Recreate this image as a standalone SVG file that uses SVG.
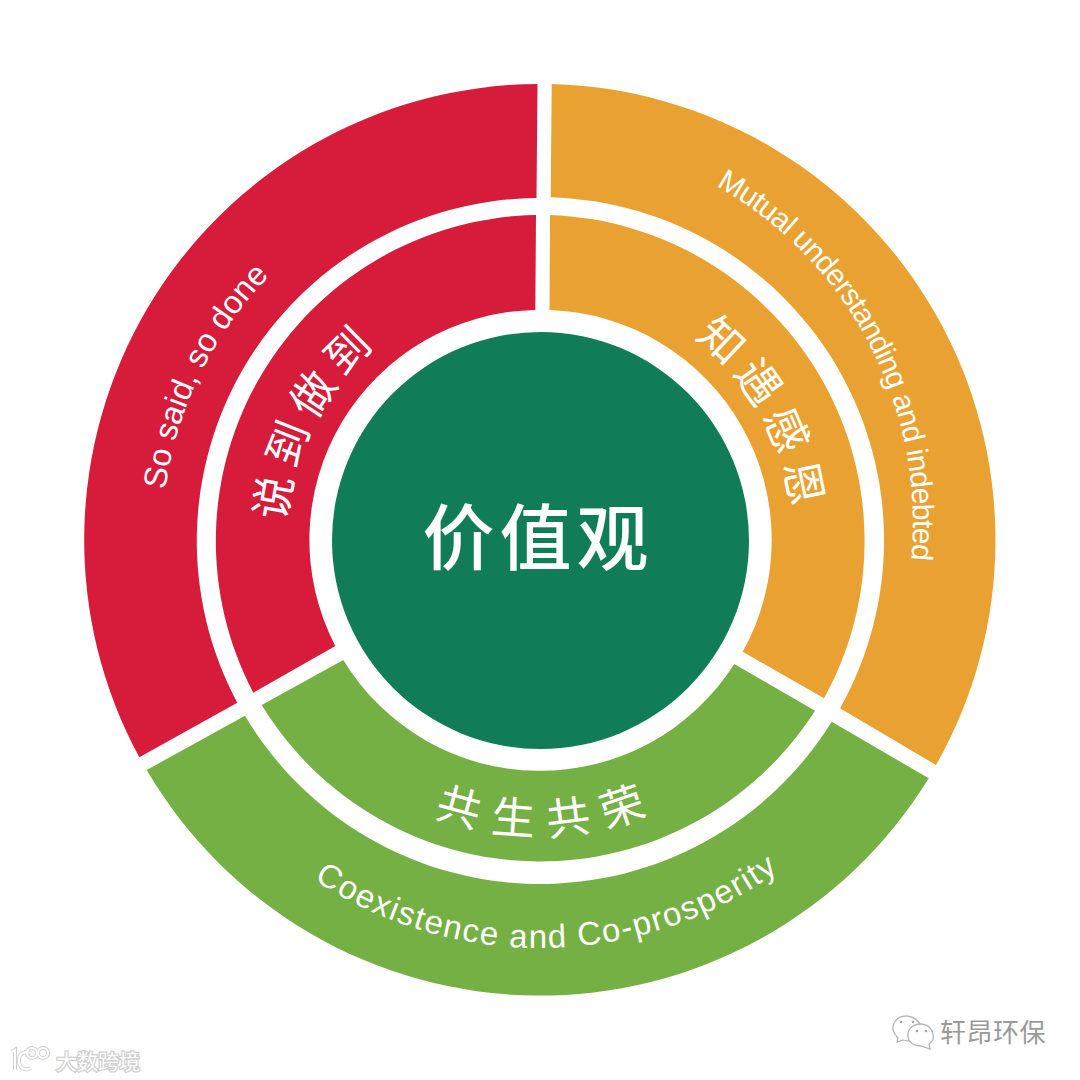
<svg xmlns="http://www.w3.org/2000/svg" width="1080" height="1080" viewBox="0 0 1080 1080">
<style>
.red{fill:#D61C3A}.org{fill:#E9A232}.grn{fill:#75B044}.core{fill:#117D58}
.cjk{font-family:"Noto Sans CJK SC","Noto Sans",sans-serif;fill:#fff;font-size:44px;font-weight:400;text-anchor:middle}
.en{font-family:"Liberation Sans",Arial,sans-serif;fill:#fff;text-anchor:middle}
.wm{font-family:"Noto Sans CJK SC",sans-serif;font-size:26px}
</style>
<defs>
<path id="pI" d="M 286,540 A 254 254 0 0 1 794,540"/>
<path id="pIB" d="M 245,540 A 295 295 0 0 0 835,540"/>
<path id="pOL" d="M 162,540 A 378 378 0 0 1 918,540"/>
<path id="pOR" d="M 139,523 A 387 387 0 0 1 913,523"/>
<path id="pOB" d="M 132,540 A 408 408 0 0 0 948,540"/>
</defs>
<rect width="1080" height="1080" fill="#fff"/>
<g id="node-red">
<path class="red" d="M537.5,84 L536.5,198 A343 343 0 0 0 237.3,702.7 L139.3,757.3 A456 456 0 0 1 537.5,84 Z"/>
<path class="red" d="M536,215 L535.3,310 A230 230 0 0 0 335.3,646 L253.3,692.7 A326 326 0 0 1 536,215 Z"/>
<text class="cjk" letter-spacing="8.4" transform="rotate(-62.3 540 540)"><textPath href="#pI" startOffset="50%">说到做到</textPath></text>
<text class="en" font-size="32.5" transform="rotate(-64 540 540)"><textPath href="#pOL" startOffset="50%">So said, so done</textPath></text>
</g>
<g id="node-orange">
<path class="org" d="M551.7,84 A456 456 0 0 1 936,765 L840,708.3 A343 343 0 0 0 550.7,197.3 Z"/>
<path class="org" d="M550,215 A326 326 0 0 1 824,698.3 L742.7,651.7 A230 230 0 0 0 549.5,310 Z"/>
<text class="cjk" letter-spacing="8.4" transform="rotate(60.9 540 540)"><textPath href="#pI" startOffset="50%">知遇感恩</textPath></text>
<text class="en" font-size="30" letter-spacing="-0.75" transform="rotate(62.4 526 523)"><textPath href="#pOR" startOffset="50%">Mutual understanding and indebted</textPath></text>
</g>
<g id="node-green">
<path class="grn" d="M146.7,770 L245,715.7 A343 343 0 0 0 831.7,721.7 L928.7,778.3 A456 456 0 0 1 146.7,770 Z"/>
<path class="grn" d="M261.7,705 L343.3,660 A230 230 0 0 0 734.3,664 L815,710.7 A326 326 0 0 1 261.7,705 Z"/>
<text class="cjk" letter-spacing="14.2" transform="rotate(-1.6 540 540)"><textPath href="#pIB" startOffset="50%">共生共荣</textPath></text>
<text class="en" font-size="33" letter-spacing="1.45" transform="rotate(-1.15 540 540)"><textPath href="#pOB" startOffset="50%">Coexistence and Co-prosperity</textPath></text>
</g>
<g id="node-core">
<circle class="core" cx="540.5" cy="540.5" r="208.5"/>
<text x="538" y="564" font-family="Noto Sans CJK SC, sans-serif" font-size="72" font-weight="500" fill="#fff" text-anchor="middle" letter-spacing="5">价值观</text>
</g>
<g id="watermark-right">
<g fill="#fff" stroke="#b5b5b5" stroke-width="1.3">
<path d="M906,1016 C897,1016 892,1023 893,1030 C894,1034 896,1036 898,1038 L897,1042 L903,1040 C906,1041 908,1041 911,1041 C917,1039 922,1034 921,1027 C919,1020 913,1016 906,1016 Z"/>
<path d="M921,1024 C912,1024 907,1030 908,1037 C909,1043 915,1046 921,1046 L930,1049 L929,1044 C932,1042 934,1038 933,1034 C932,1028 927,1024 921,1024 Z"/>
</g>
<g fill="#a5a5a5"><circle cx="901" cy="1022" r="1.3"/><circle cx="913" cy="1022" r="1.3"/><circle cx="917" cy="1031" r="1.3"/><circle cx="926" cy="1031" r="1.3"/></g>
<text class="wm" x="940" y="1042" fill="#9a9a9a" letter-spacing="0.5">轩昂环保</text>
</g>
<g id="watermark-left">
<g fill="none" stroke="#cfcfcf" stroke-width="4"><path d="M12,1052 L15,1050 V1070"/><path d="M31,1053 C22,1050 18,1056 19,1062 C20,1069 26,1071 31,1068"/><circle cx="32" cy="1053" r="5"/><circle cx="43" cy="1053" r="5"/></g>
<g fill="none" stroke="#fff" stroke-width="2.2"><path d="M12,1052 L15,1050 V1070"/><path d="M31,1053 C22,1050 18,1056 19,1062 C20,1069 26,1071 31,1068"/><circle cx="32" cy="1053" r="5"/><circle cx="43" cy="1053" r="5"/></g>
<text class="wm" x="56" y="1069" fill="#fff" stroke="#cfcfcf" stroke-width="2.5" paint-order="stroke" style="font-size:21px">大数跨境</text>
</g>
</svg>
